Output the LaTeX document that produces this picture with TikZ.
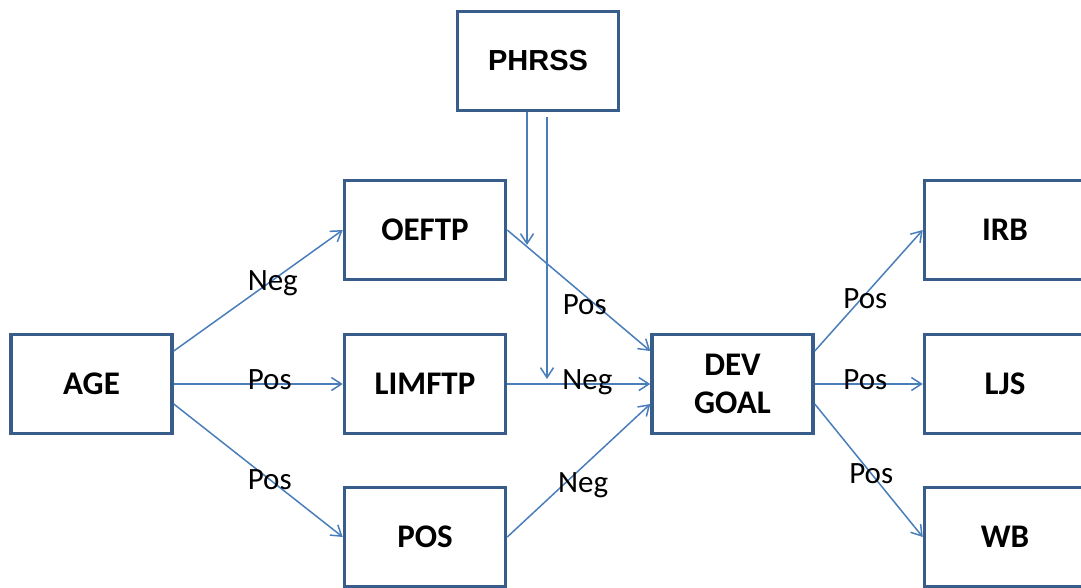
\documentclass[tikz,border=0pt]{standalone}
\usepackage{fontspec}
\setmainfont{Carlito}
\newfontfamily\arialfont{Liberation Sans}
\usetikzlibrary{arrows.meta}
\definecolor{boxline}{HTML}{385D8A}
\definecolor{arrline}{HTML}{4A7EBB}
\tikzset{
  varbox/.style={draw=boxline, line width=3.5pt, fill=white, minimum width=161pt,
    minimum height=99pt, align=center, font=\fontsize{33}{38}\selectfont\bfseries},
  link/.style={draw=arrline, line width=1.5pt, -{Straight Barb[length=10pt,width=13pt,line width=1.5pt]}},
  lbl/.style={inner sep=0pt, text height=20pt, text depth=0pt, font=\fontsize{31}{37}\selectfont}
}
\begin{document}
\begin{tikzpicture}[x=1pt,y=-1pt]
\useasboundingbox (0,0) rectangle (1081,587);

% variables
\node[varbox] (phrss) at (538,61) {\arialfont\fontsize{29}{34}\selectfont\bfseries PHRSS};
\node[varbox] (age) at (91.5,384) {AGE};
\node[varbox] (oeftp) at (425,230) {OEFTP};
\node[varbox] (limftp) at (425,384) {LIMFTP};
\node[varbox] (pos) at (425,537) {POS};
\node[varbox] (dev) at (732.5,384) {DEV\\GOAL};
\node[varbox] (irb) at (1005,230) {IRB};
\node[varbox] (ljs) at (1005,384) {LJS};
\node[varbox] (wb) at (1005,537) {WB};

% moderation points on the paths into DEV GOAL
\coordinate (m1) at (527,245);
\coordinate (m2) at (547,379);

% age effects
\draw[link] ([yshift=33pt]age.east) -- node[lbl,pos=0.586] {Neg} (oeftp.west);
\draw[link] (age.east) -- node[lbl,pos=0.568,yshift=5pt] {Pos} (limftp.west);
\draw[link] ([yshift=-20pt]age.east) -- node[lbl,pos=0.568] {Pos} (pos.west);

% effects on DEV GOAL
\draw[link] (oeftp.east) -- node[lbl,pos=0.542,yshift=-8.5pt] {Pos} ([yshift=33pt]dev.west);
\draw[link] (limftp.east) -- node[lbl,pos=0.56,yshift=5pt] {Neg} (dev.west);
\draw[link] (pos.east) -- node[lbl,pos=0.531,yshift=-16.5pt] {Neg} ([yshift=-20pt]dev.west);

% PHRSS moderation
\draw[link] ([xshift=-11pt]phrss.south) -- (m1);
\draw[link] ([xshift=9pt,yshift=-5pt]phrss.south) -- (m2);

% outcomes
\draw[link] ([yshift=33pt]dev.east) -- node[lbl,pos=0.468,yshift=-3.7pt] {Pos} (irb.west);
\draw[link] (dev.east) -- node[lbl,pos=0.468,yshift=5pt] {Pos} (ljs.west);
\draw[link] ([yshift=-20pt]dev.east) -- node[lbl,pos=0.523] {Pos} (wb.west);
\end{tikzpicture}
\end{document}
